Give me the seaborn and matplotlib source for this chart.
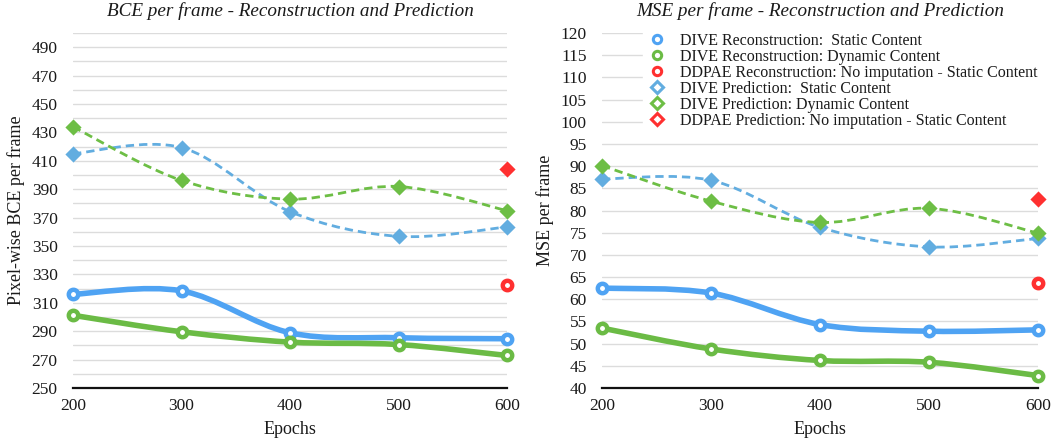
import numpy as np
import matplotlib
matplotlib.use('Agg')
import matplotlib.pyplot as plt
from matplotlib.path import Path
from matplotlib.patches import PathPatch
from matplotlib.lines import Line2D
import seaborn as sns

# ---- data ----
epochs = [200, 300, 400, 500, 600]
ddpae_epoch = [600]

bce_rec_static = [316.0, 318.4, 288.9, 285.4, 284.7]
bce_rec_dynamic = [301.2, 289.6, 282.3, 280.6, 272.9]
bce_pred_static = [415.0, 419.3, 374.2, 356.8, 363.4]
bce_pred_dynamic = [433.9, 396.2, 383.0, 391.9, 374.9]
bce_ddpae_rec = [322.6]
bce_ddpae_pred = [403.9]

mse_rec_static = [62.5, 61.4, 54.3, 52.8, 53.1]
mse_rec_dynamic = [53.5, 48.8, 46.2, 45.8, 42.8]
mse_pred_static = [87.1, 86.8, 76.2, 71.8, 73.7]
mse_pred_dynamic = [90.1, 82.1, 77.3, 80.5, 74.9]
mse_ddpae_rec = [63.7]
mse_ddpae_pred = [82.6]

legend_labels = [
    "DIVE Reconstruction:  Static Content",
    "DIVE Reconstruction: Dynamic Content",
    "DDPAE Reconstruction: No imputation - Static Content",
    "DIVE Prediction:  Static Content",
    "DIVE Prediction: Dynamic Content",
    "DDPAE Prediction: No imputation - Static Content",
]

# ---- style ----
BLUE_REC = '#4FA3F3'
GREEN_REC = '#6BBB45'
BLUE_PRED = '#62ADE0'
GREEN_PRED = '#6DBE45'
RED = '#FF3030'
GRID = '#DCDCDC'
TEXT = '#1A1A1A'

sns.set_theme(style="white")
plt.rcParams['font.family'] = ['Liberation Serif', 'DejaVu Serif']
plt.rcParams['text.color'] = TEXT
plt.rcParams['xtick.color'] = TEXT
plt.rcParams['ytick.color'] = TEXT
plt.rcParams['axes.labelcolor'] = TEXT


def smooth_path(xs, ys):
    """Excel-style smoothed line (Catmull-Rom as cubic Bezier)."""
    pts = np.column_stack([xs, ys]).astype(float)
    n = len(pts)
    verts = [pts[0]]
    codes = [Path.MOVETO]
    for i in range(n - 1):
        p0 = pts[max(i - 1, 0)]
        p1 = pts[i]
        p2 = pts[i + 1]
        p3 = pts[min(i + 2, n - 1)]
        verts += [p1 + (p2 - p0) / 6, p2 - (p3 - p1) / 6, p2]
        codes += [Path.CURVE4] * 3
    return Path(verts, codes)


def draw_panel(ax, rec_s, rec_d, pred_s, pred_d, dd_rec, dd_pred):
    # prediction lines (dashed)
    for ys, c in [(pred_s, BLUE_PRED), (pred_d, GREEN_PRED)]:
        ax.add_patch(PathPatch(smooth_path(epochs, ys), fill=False, edgecolor=c,
                               lw=2.0, linestyle=(0, (3.0, 1.8)), zorder=3))
    # reconstruction lines (thick solid)
    for ys, c in [(rec_s, BLUE_REC), (rec_d, GREEN_REC)]:
        ax.add_patch(PathPatch(smooth_path(epochs, ys), fill=False, edgecolor=c,
                               lw=4.0, capstyle='round', zorder=3))
    # markers
    for ys, c in [(pred_s, BLUE_PRED), (pred_d, GREEN_PRED)]:
        sns.scatterplot(x=epochs, y=ys, ax=ax, marker='D', s=68, color=c,
                        edgecolor=c, linewidth=0, clip_on=False, zorder=5)
    sns.scatterplot(x=ddpae_epoch, y=dd_pred, ax=ax, marker='D', s=68, color=RED,
                    edgecolor=RED, linewidth=0, clip_on=False, zorder=5)
    for ys, c in [(rec_s, BLUE_REC), (rec_d, GREEN_REC)]:
        sns.scatterplot(x=epochs, y=ys, ax=ax, marker='o', s=46, color='white',
                        edgecolor=c, linewidth=3.2, clip_on=False, zorder=6)
    sns.scatterplot(x=ddpae_epoch, y=dd_rec, ax=ax, marker='o', s=46, color='white',
                    edgecolor=RED, linewidth=3.2, clip_on=False, zorder=6)

    ax.set_xlim(200, 600)
    ax.set_xticks(epochs)
    ax.set_xticklabels([str(e) for e in epochs])
    for s in ['top', 'right', 'left']:
        ax.spines[s].set_visible(False)
    ax.spines['bottom'].set_color('#111111')
    ax.spines['bottom'].set_linewidth(1.6)
    ax.spines['bottom'].set_zorder(4)
    ax.grid(axis='y', color=GRID, lw=1.0)
    ax.grid(axis='x', visible=False)
    ax.set_axisbelow(True)
    ax.tick_params(axis='y', length=0, pad=11, labelsize=12.5)
    ax.tick_params(axis='x', length=0, pad=7, labelsize=12.5)
    ax.set_xlabel("Epochs", fontsize=13, labelpad=5)


fig = plt.figure(figsize=(10.56, 4.38), dpi=100)
ax1 = fig.add_axes([73 / 1056, 50 / 438, 434 / 1056, 355 / 438])
ax2 = fig.add_axes([602 / 1056, 50 / 438, 436 / 1056, 355 / 438])

# ---- left: BCE ----
draw_panel(ax1, bce_rec_static, bce_rec_dynamic, bce_pred_static, bce_pred_dynamic,
           bce_ddpae_rec, bce_ddpae_pred)
ax1.set_ylim(250, 500)
bce_ticks = list(range(250, 510, 10))
ax1.set_yticks(bce_ticks)
ax1.set_yticklabels([str(t) if (t - 250) % 20 == 0 and t < 500 else '' for t in bce_ticks])
ax1.set_ylabel("Pixel-wise BCE per frame", fontsize=13, labelpad=5)
ax1.set_title("BCE per frame - Reconstruction and Prediction", fontsize=13.8,
              style='italic', pad=12)

# ---- right: MSE ----
draw_panel(ax2, mse_rec_static, mse_rec_dynamic, mse_pred_static, mse_pred_dynamic,
           mse_ddpae_rec, mse_ddpae_pred)
ax2.set_ylim(40, 120)
mse_ticks = list(range(40, 125, 5))
ax2.set_yticks(mse_ticks)
ax2.set_yticklabels([str(t) for t in mse_ticks])
ax2.set_ylabel("MSE per frame", fontsize=13, labelpad=5)
ax2.set_title("MSE per frame - Reconstruction and Prediction", fontsize=13.8,
              style='italic', pad=12)

# legend: hollow markers only
handles = []
for c, m in [(BLUE_REC, 'o'), (GREEN_REC, 'o'), (RED, 'o'),
             (BLUE_PRED, 'D'), (GREEN_PRED, 'D'), (RED, 'D')]:
    handles.append(Line2D([], [], linestyle='none', marker=m, markersize=6,
                          markerfacecolor='white', markeredgecolor=c, markeredgewidth=2.2))
leg = ax2.legend(handles, legend_labels, loc='upper left',
                 bbox_to_anchor=(643 / 1056, 1 - 28 / 438), bbox_transform=fig.transFigure,
                 frameon=True, facecolor='white', edgecolor='white', framealpha=1,
                 fontsize=11.5, labelspacing=0.0, handletextpad=0.8, borderpad=0.3,
                 handlelength=1.2, borderaxespad=0)
leg.set_zorder(10)

fig.savefig('out.png', dpi=100, facecolor='white')
